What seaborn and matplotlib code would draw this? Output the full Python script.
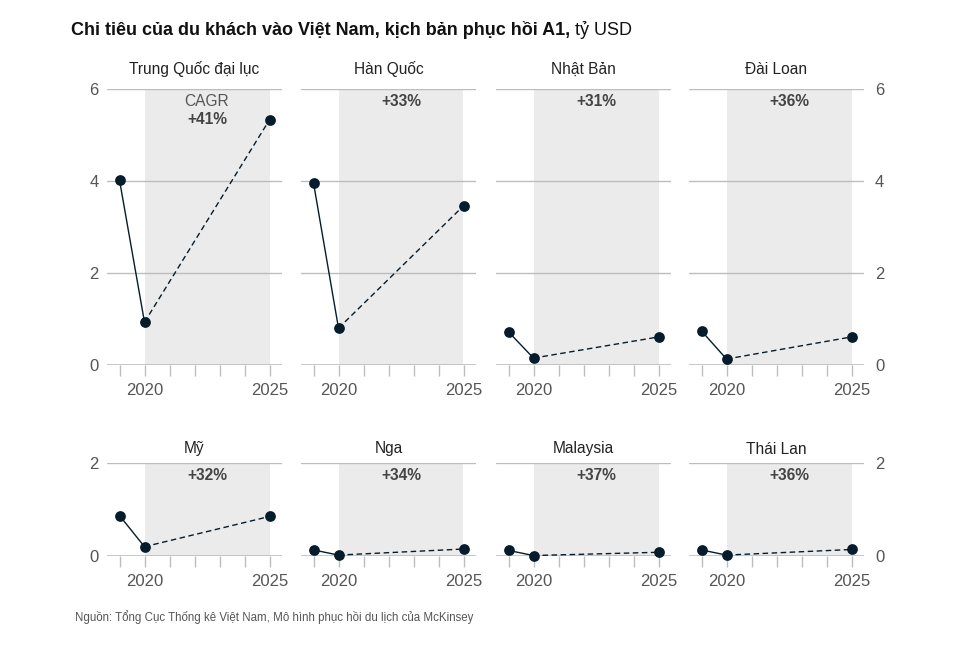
import pandas as pd
import matplotlib
matplotlib.use("Agg")
import matplotlib.pyplot as plt
import seaborn as sns

# --- data (tỷ USD) ---
countries = ["Trung Quốc đại lục", "Hàn Quốc", "Nhật Bản", "Đài Loan",
             "Mỹ", "Nga", "Malaysia", "Thái Lan"]
v2019 = [4.02, 3.96, 0.72, 0.74, 0.87, 0.13, 0.12, 0.13]
v2020 = [0.93, 0.80, 0.15, 0.13, 0.20, 0.02, 0.01, 0.02]
v2025 = [5.33, 3.46, 0.61, 0.61, 0.85, 0.15, 0.08, 0.14]
cagr = ["+41%", "+33%", "+31%", "+36%", "+32%", "+34%", "+37%", "+36%"]
years = [2019, 2020, 2021, 2022, 2023, 2024, 2025]
row_ymax = [6, 2]

# long table: actual segment (2019-2020) + forecast segment (2020-2025)
rows = []
for c, a, b, f in zip(countries, v2019, v2020, v2025):
    rows += [(c, 2019, a, "actual"), (c, 2020, b, "actual"),
             (c, 2020, b, "forecast"), (c, 2025, f, "forecast")]
df = pd.DataFrame(rows, columns=["country", "year", "value", "segment"])

sns.set_theme(style="white")
plt.rcParams["font.family"] = ["Liberation Sans", "DejaVu Sans"]

W, H = 966, 651
fig = plt.figure(figsize=(W / 100, H / 100), dpi=100)

navy = "#051c2c"
grid = "#bdbdbd"
txt = "#555555"

lefts = [107, 301, 496, 689]
pw = 175
tops = [89, 463]
bottoms = [365, 556]
title_y = [69, 449]

for i, c in enumerate(countries):
    r, col = divmod(i, 4)
    x0 = lefts[col] / W
    y0 = 1 - bottoms[r] / H
    ax = fig.add_axes([x0, y0, pw / W, (bottoms[r] - tops[r]) / H])
    ymax = row_ymax[r]

    ax.axvspan(2020, 2025, color="#ebebeb", zorder=0, lw=0)
    for g in range(2, ymax + 1, 2):
        ax.axhline(g, color=grid, lw=1, zorder=1)
    ax.axhline(0, color=grid, lw=1.2, zorder=1)

    sub = df[df.country == c]
    sns.lineplot(data=sub, x="year", y="value", style="segment",
                 dashes={"actual": "", "forecast": (4, 2.5)},
                 color=navy, lw=1, legend=False, ax=ax, zorder=3,
                 estimator=None, sort=False, units="segment")
    pts = sub.drop_duplicates(subset=["year"])
    sns.scatterplot(data=pts, x="year", y="value", color=navy, s=60,
                    edgecolor=navy, linewidth=0, ax=ax, zorder=4,
                    clip_on=False, legend=False)

    ax.set_xlim(2018.5, 2025.5)
    ax.set_ylim(0, ymax)
    ax.set_xticks(years)
    ax.set_xticklabels(["2020" if y == 2020 else "2025" if y == 2025 else ""
                        for y in years])
    ax.tick_params(axis="x", bottom=True, length=8, width=1, color=grid,
                   pad=5, labelsize=12, labelcolor=txt, direction="out")
    ax.set_yticks(range(0, ymax + 1, 2))
    if col == 0:
        ax.tick_params(axis="y", length=0, pad=6, labelsize=12,
                       labelcolor=txt, left=True, labelleft=True,
                       right=False, labelright=False)
    elif col == 3:
        ax.tick_params(axis="y", length=0, pad=8, labelsize=12,
                       labelcolor=txt, left=False, labelleft=False,
                       right=True, labelright=True)
    else:
        ax.tick_params(axis="y", length=0, labelleft=False, labelright=False)
    for s in ax.spines.values():
        s.set_visible(False)
    ax.set_xlabel("")
    ax.set_ylabel("")

    fig.text(x0 + pw / W / 2, 1 - title_y[r] / H, c, ha="center",
             va="center", fontsize=11.2, color="#222222")
    xc = 2022.5
    if i == 0:
        ax.text(xc, ymax - 6 * 13 / 276, "CAGR", ha="center", va="center",
                fontsize=11.2, color=txt)
        ax.text(xc, ymax - 6 * 31 / 276, cagr[i], ha="center", va="center",
                fontsize=11.2, fontweight="bold", color="#444444")
    else:
        ax.text(xc, ymax - ymax * 13 / (bottoms[r] - tops[r]), cagr[i],
                ha="center", va="center", fontsize=11.2, fontweight="bold",
                color="#444444")

# title
t = fig.text(71 / W, 1 - 30 / H, "Chi tiêu của du khách vào Việt Nam, kịch bản phục hồi A1,",
             ha="left", va="center", fontsize=13, fontweight="bold",
             color="#111111")
fig.canvas.draw()
bb = t.get_window_extent()
fig.text((bb.x1 + 5) / W, 1 - 30 / H, "tỷ USD", ha="left", va="center",
         fontsize=13, color="#111111")

fig.text(75 / W, 1 - 617 / H,
         "Nguồn: Tổng Cục Thống kê Việt Nam, Mô hình phục hồi du lịch của McKinsey",
         ha="left", va="center", fontsize=8.3, color="#555555")

fig.savefig("out.png", dpi=100)
